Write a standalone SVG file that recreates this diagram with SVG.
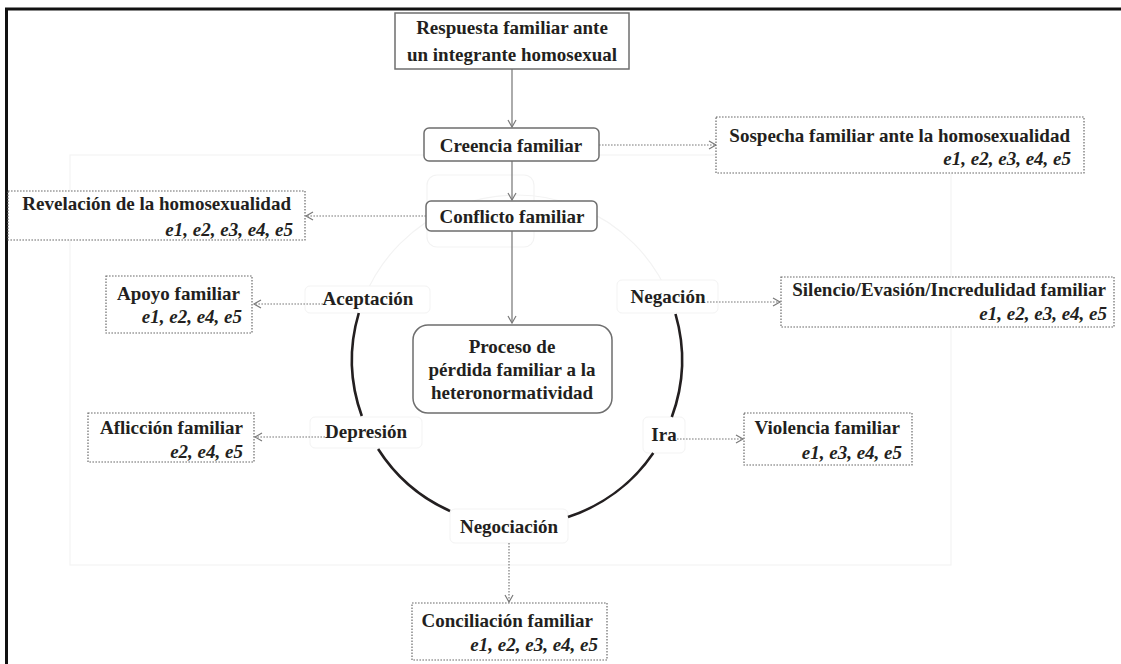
<svg xmlns="http://www.w3.org/2000/svg" width="1121" height="664" viewBox="0 0 1121 664">
<style>
  text { font-family: "Liberation Serif", "Times New Roman", serif; font-weight: bold; font-size: 19px; fill: #231f20; }
  .c { text-anchor: middle; }
  .r { text-anchor: end; }
  .it { font-style: italic; }
  .solidbox { fill: #ffffff; stroke: #6e6e6e; stroke-width: 1.5; }
  .dotbox { fill: #ffffff; stroke: #6a6a6a; stroke-width: 1.2; stroke-dasharray: 1.6 1.4; }
  .lbl { fill: #ffffff; stroke: #f3f3f3; stroke-width: 1; }
  .faint { fill: none; stroke: #f3f3f3; stroke-width: 1.2; }
  .arc { fill: none; stroke: #231f20; stroke-width: 2.6; }
  .solid { fill: none; stroke: #7f7f7f; stroke-width: 1.3; }
  .dot { fill: none; stroke: #7a7a7a; stroke-width: 1.2; stroke-dasharray: 1.6 1.4; }
</style>
<defs>
  <marker id="ah" markerWidth="10" markerHeight="10" refX="8" refY="5" orient="auto" markerUnits="userSpaceOnUse">
    <path d="M1,1 L8,5 L1,9" fill="none" stroke="#7a7a7a" stroke-width="1.2"/>
  </marker>
</defs>

<!-- outer frame -->
<path d="M6.5,670 L6.5,9 L1125,9" fill="none" stroke="#111111" stroke-width="3"/>

<!-- faint background artefacts -->
<g id="background">
  <rect x="70" y="155" width="881" height="410" class="faint"/>
  <circle cx="517" cy="360" r="165" class="faint"/>
  <rect x="427" y="175" width="107" height="72" rx="10" class="faint"/>
</g>

<!-- stage labels (boxes hide circle) -->
<g id="aceptacion"><rect x="305" y="286" width="125" height="27" rx="5" class="lbl"/><text x="368" y="305" class="c">Aceptación</text></g>
<g id="negacion"><rect x="617" y="280" width="101" height="33" rx="5" class="lbl"/><text x="668" y="303" class="c">Negación</text></g>
<g id="depresion"><rect x="310" y="417" width="112" height="31" rx="5" class="lbl"/><text x="366" y="438" class="c">Depresión</text></g>
<g id="ira"><rect x="643" y="417" width="42" height="36" rx="5" class="lbl"/><text x="664" y="441" class="c">Ira</text></g>
<g id="negociacion"><rect x="450" y="509" width="118" height="34" rx="5" class="lbl"/><text x="509" y="533" class="c">Negociación</text></g>

<!-- connectors -->
<g id="connectors">
  <path d="M358.8,313 A165,165 0 0 0 361.8,416" class="arc"/>
  <path d="M378.1,449 A165,165 0 0 0 450,511" class="arc"/>
  <path d="M568,517 A165,165 0 0 0 653.3,453" class="arc"/>
  <path d="M671.8,417 A165,165 0 0 0 675.5,314" class="arc"/>

  <line x1="512" y1="69" x2="512" y2="127" class="solid" marker-end="url(#ah)"/>
  <line x1="512" y1="161" x2="512" y2="200" class="solid" marker-end="url(#ah)"/>
  <line x1="512" y1="231" x2="512" y2="323" class="solid" marker-end="url(#ah)"/>

  <line x1="599" y1="145" x2="716" y2="145" class="dot" marker-end="url(#ah)"/>
  <line x1="426" y1="216" x2="306" y2="216" class="dot" marker-end="url(#ah)"/>
  <line x1="323" y1="304" x2="254" y2="304" class="dot" marker-end="url(#ah)"/>
  <line x1="707" y1="302" x2="780" y2="302" class="dot" marker-end="url(#ah)"/>
  <line x1="325" y1="437" x2="255" y2="437" class="dot" marker-end="url(#ah)"/>
  <line x1="677" y1="439" x2="743" y2="439" class="dot" marker-end="url(#ah)"/>
  <line x1="509" y1="543" x2="509" y2="602" class="dot" marker-end="url(#ah)"/>
</g>

<!-- main nodes -->
<g id="respuesta">
  <rect x="395" y="13" width="234" height="56" class="solidbox"/>
  <text x="512" y="34" class="c">Respuesta familiar ante</text>
  <text x="512" y="61" class="c">un integrante homosexual</text>
</g>
<g id="creencia">
  <rect x="424" y="128" width="175" height="33" rx="5" class="solidbox"/>
  <text x="511" y="152" class="c">Creencia familiar</text>
</g>
<g id="conflicto">
  <rect x="426" y="201" width="171" height="30" rx="5" class="solidbox"/>
  <text x="512" y="223" class="c">Conflicto familiar</text>
</g>
<g id="proceso">
  <rect x="413" y="325" width="199" height="88" rx="15" class="solidbox"/>
  <text x="512" y="353" class="c">Proceso de</text>
  <text x="512" y="376" class="c">pérdida familiar a la</text>
  <text x="512" y="399" class="c">heteronormatividad</text>
</g>

<!-- outcome boxes -->
<g id="sospecha">
  <rect x="716" y="117" width="368" height="56" class="dotbox"/>
  <text x="1070" y="142" class="r">Sospecha familiar ante la homosexualidad</text>
  <text x="1071" y="165" class="r it">e1, e2, e3, e4, e5</text>
</g>
<g id="revelacion">
  <rect x="8" y="191" width="297" height="49" class="dotbox"/>
  <text x="291" y="210" class="r">Revelación de la homosexualidad</text>
  <text x="293" y="236" class="r it">e1, e2, e3, e4, e5</text>
</g>
<g id="apoyo">
  <rect x="106" y="276" width="146" height="57" class="dotbox"/>
  <text x="240" y="300" class="r">Apoyo familiar</text>
  <text x="242" y="323" class="r it">e1, e2, e4, e5</text>
</g>
<g id="silencio">
  <rect x="781" y="277" width="333" height="50" class="dotbox"/>
  <text x="1106" y="296" class="r">Silencio/Evasión/Incredulidad familiar</text>
  <text x="1107" y="320" class="r it">e1, e2, e3, e4, e5</text>
</g>
<g id="afliccion">
  <rect x="88" y="413" width="166" height="49" class="dotbox"/>
  <text x="243" y="434" class="r">Aflicción familiar</text>
  <text x="243" y="458" class="r it">e2, e4, e5</text>
</g>
<g id="violencia">
  <rect x="744" y="413" width="168" height="52" class="dotbox"/>
  <text x="900" y="434" class="r">Violencia familiar</text>
  <text x="902" y="459" class="r it">e1, e3, e4, e5</text>
</g>
<g id="conciliacion">
  <rect x="412" y="603" width="195" height="57" class="dotbox"/>
  <text x="593" y="627" class="r">Conciliación familiar</text>
  <text x="598" y="651" class="r it">e1, e2, e3, e4, e5</text>
</g>
</svg>
